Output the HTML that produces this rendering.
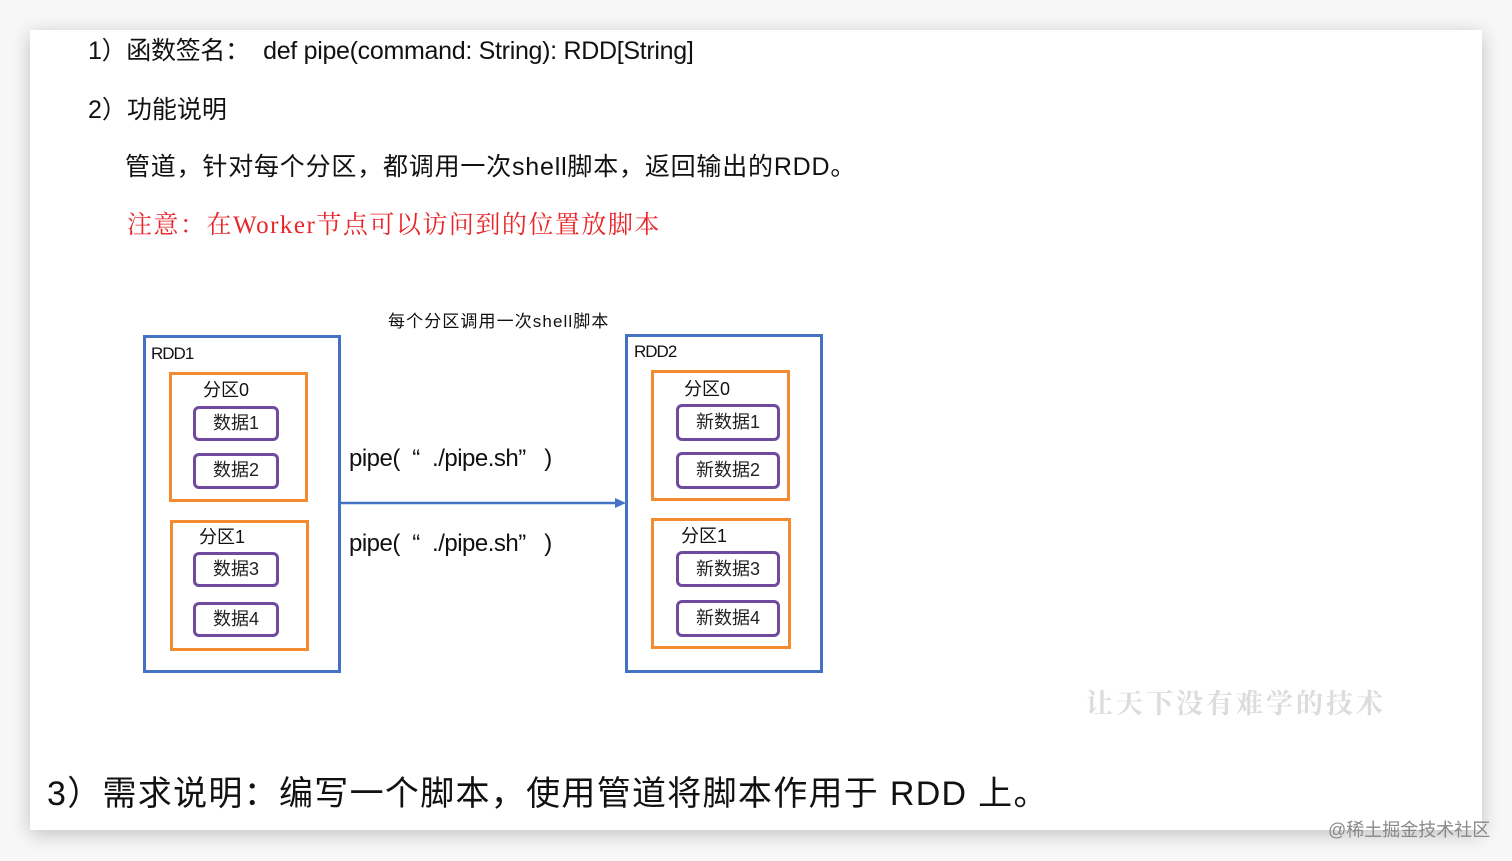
<!DOCTYPE html>
<html><head><meta charset="utf-8"><style>
html,body{margin:0;padding:0;}
body{width:1512px;height:861px;background:#f7f7f7;position:relative;overflow:hidden;font-family:"Liberation Sans","Noto Sans CJK SC",sans-serif;}
.card{position:absolute;left:30px;top:30px;width:1452px;height:800px;background:#fff;box-shadow:0 4px 18px rgba(0,0,0,0.22);}
.t{position:absolute;white-space:nowrap;color:#111;}
.b{position:absolute;box-sizing:border-box;}
.blue{border:3px solid #4472c4;}
.or{border:3px solid #f28a30;}
.pu{border:3px solid #6f4a9e;border-radius:6px;font-size:18px;text-align:center;line-height:29px;color:#222;}
</style></head><body>
<div class="card"></div>
<div class="t" style="left:88px;top:31px;font-size:25px;letter-spacing:-0.3px;">1）函数签名：&nbsp;&nbsp;def pipe(command: String): RDD[String]</div>
<div class="t" style="left:88px;top:90px;font-size:25px;">2）功能说明</div>
<div class="t" style="left:125px;top:147px;font-size:25px;letter-spacing:0.8px;">管道，针对每个分区，都调用一次shell脚本，返回输出的RDD。</div>
<div class="t" style="left:127px;top:205px;font-size:25px;letter-spacing:1.5px;color:#e8262a;font-family:'Liberation Serif','Noto Serif CJK SC',serif;">注意：在Worker节点可以访问到的位置放脚本</div>
<div class="t" style="left:388px;top:307px;font-size:17px;letter-spacing:1.1px;">每个分区调用一次shell脚本</div>

<div class="b blue" style="left:143px;top:335px;width:198px;height:338px;"></div>
<div class="t" style="left:151px;top:344px;font-size:17px;letter-spacing:-1px;">RDD1</div>
<div class="b or" style="left:169px;top:372px;width:139px;height:130px;"></div>
<div class="t" style="left:203px;top:376px;font-size:18px;">分区0</div>
<div class="b pu" style="left:193px;top:406px;width:86px;height:35px;">数据1</div>
<div class="b pu" style="left:193px;top:453px;width:86px;height:36px;">数据2</div>
<div class="b or" style="left:170px;top:520px;width:139px;height:131px;"></div>
<div class="t" style="left:199px;top:523px;font-size:18px;">分区1</div>
<div class="b pu" style="left:193px;top:552px;width:86px;height:35px;">数据3</div>
<div class="b pu" style="left:193px;top:602px;width:86px;height:35px;">数据4</div>

<div class="b blue" style="left:625px;top:334px;width:198px;height:339px;"></div>
<div class="t" style="left:634px;top:342px;font-size:17px;letter-spacing:-1px;">RDD2</div>
<div class="b or" style="left:651px;top:370px;width:139px;height:131px;"></div>
<div class="t" style="left:684px;top:375px;font-size:18px;">分区0</div>
<div class="b pu" style="left:676px;top:404px;width:104px;height:37px;line-height:31px;">新数据1</div>
<div class="b pu" style="left:676px;top:452px;width:104px;height:37px;line-height:31px;">新数据2</div>
<div class="b or" style="left:651px;top:518px;width:140px;height:131px;"></div>
<div class="t" style="left:681px;top:522px;font-size:18px;">分区1</div>
<div class="b pu" style="left:676px;top:551px;width:104px;height:36px;line-height:30px;">新数据3</div>
<div class="b pu" style="left:676px;top:600px;width:104px;height:37px;line-height:31px;">新数据4</div>

<svg style="position:absolute;left:0;top:0" width="1512" height="861">
<line x1="341" y1="503" x2="617" y2="503" stroke="#4472c4" stroke-width="2.5"/>
<polygon points="626,503 615,498 615,508" fill="#4472c4"/>
</svg>
<div class="t" style="left:349px;top:445px;font-size:24px;letter-spacing:-0.5px;">pipe(&nbsp;&nbsp;“&nbsp;&nbsp;./pipe.sh”&nbsp;&nbsp;&nbsp;)</div>
<div class="t" style="left:349px;top:530px;font-size:24px;letter-spacing:-0.5px;">pipe(&nbsp;&nbsp;“&nbsp;&nbsp;./pipe.sh”&nbsp;&nbsp;&nbsp;)</div>

<div class="t" style="left:1086px;top:682px;font-size:27px;color:#dcdcdc;font-family:'Noto Serif CJK SC',serif;letter-spacing:3px;font-weight:bold;">让天下没有难学的技术</div>
<div class="t" style="left:47px;top:766px;font-size:34px;letter-spacing:1.3px;">3）需求说明：编写一个脚本，使用管道将脚本作用于 RDD 上。</div>
<div class="t" style="left:1328px;top:816px;font-size:18px;color:#888;">@稀土掘金技术社区</div>
</body></html>
